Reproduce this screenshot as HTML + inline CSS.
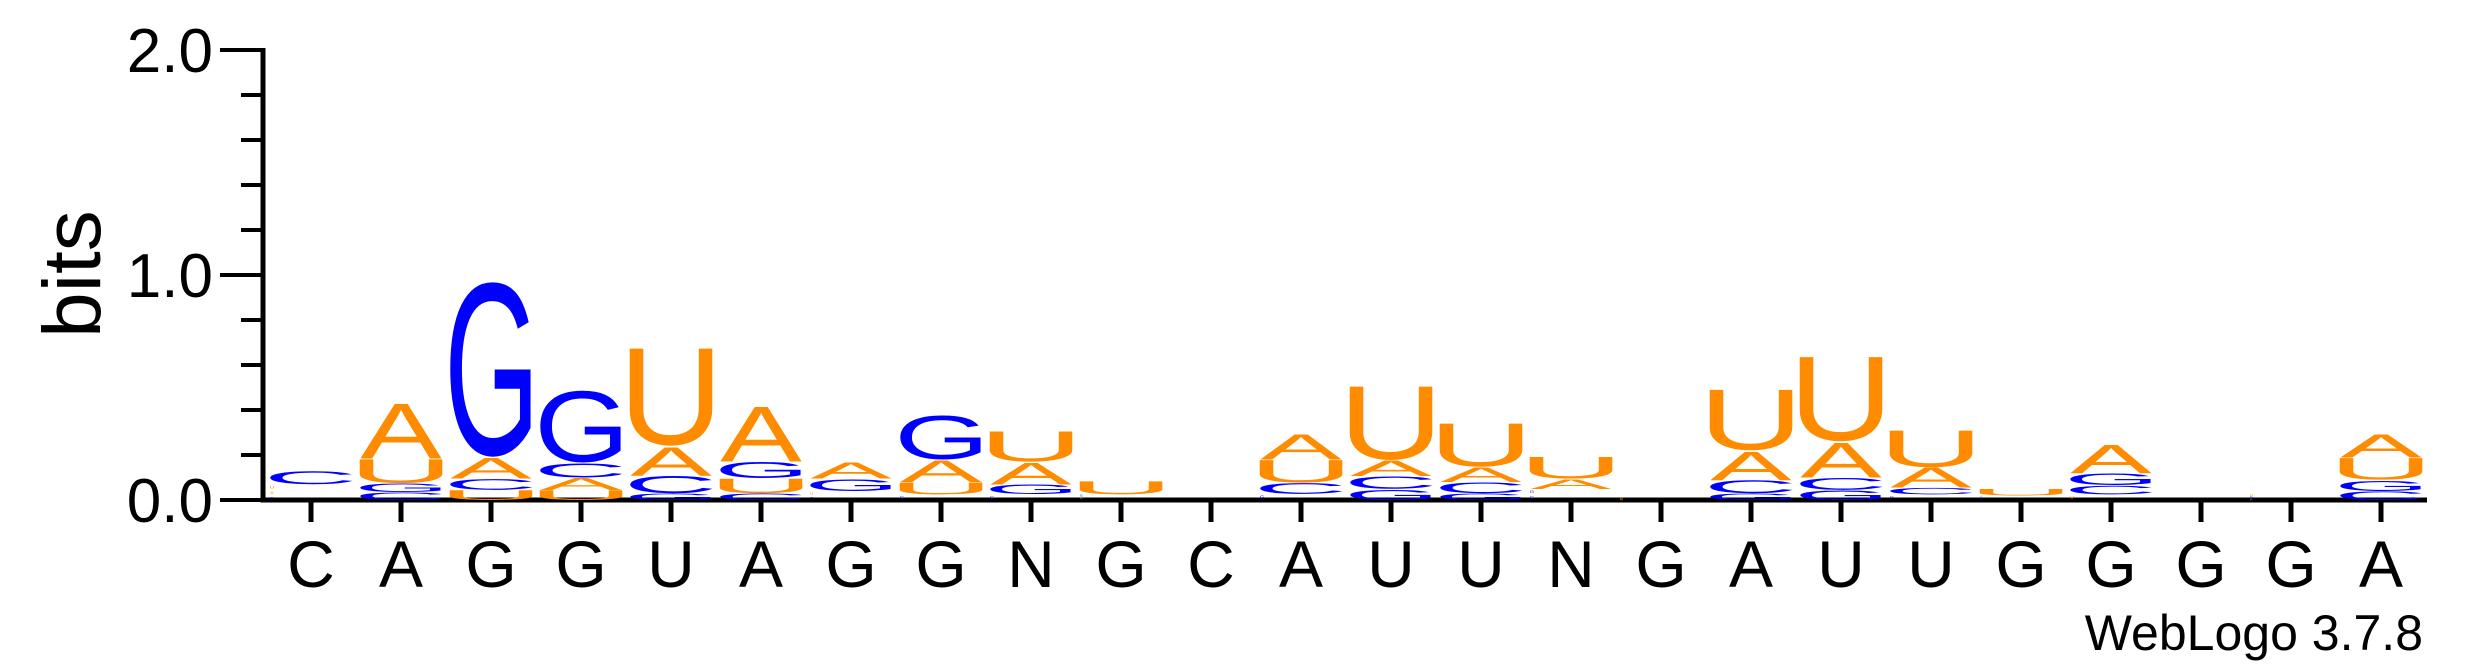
<!DOCTYPE html>
<html><head><meta charset="utf-8"><style>
html,body{margin:0;padding:0;background:#fff;}
svg{display:block;}
</style></head><body>
<svg id="chart" width="2475" height="667" viewBox="0 0 2475 667" xmlns="http://www.w3.org/2000/svg">
<g id="axes"></g>
<g id="stacks"></g>
<text x="100" y="274" transform="rotate(-90 100 274)" text-anchor="middle" font-family="Liberation Sans, sans-serif" font-size="82">bits</text>
<text x="2423" y="650" text-anchor="end" font-family="Liberation Sans, sans-serif" font-size="50">WebLogo 3.7.8</text>
</svg>
<script>
const positions = ["C","A","G","G","U","A","G","G","N","G","C","A","U","U","N","G","A","U","U","G","G","G","G","A"];
const heightA = [0.025,0.25,0.095,0.055,0.13,0.25,0.075,0.1,0.1,0.01,0,0.114,0.07,0.067,0.045,0.003,0.13,0.16,0.09,0.01,0.13,0,0.005,0.105];
const heightC = [0.06,0.035,0.05,0.065,0.08,0.03,0.02,0.025,0.025,0.005,0,0.05,0.057,0.05,0.025,0,0.06,0.055,0.03,0.005,0.04,0,0.005,0.04];
const heightG = [0.02,0.04,0.81,0.333,0.03,0.075,0.055,0.205,0.045,0.01,0,0.027,0.05,0.03,0.025,0,0.03,0.045,0.025,0.005,0.055,0,0.005,0.05];
const heightU = [0.025,0.11,0.045,0.045,0.45,0.067,0.02,0.055,0.14,0.06,0,0.104,0.34,0.2,0.1,0.008,0.28,0.39,0.17,0.03,0.025,0,0.015,0.1];
const yTicks = [0,0.2,0.4,0.6,0.8,1.0,1.2,1.4,1.6,1.8,2.0];
const yTickLabels = {"0":"0.0","1":"1.0","2":"2.0"};

const NS="http://www.w3.org/2000/svg";
const X0=311, DX=90, Y0=500, PPB=225, LW=82;
function xPos(i){return X0+i*DX;}
function yPos(b){return Y0-b*PPB;}
const colors={A:"#FF8C00",U:"#FF8C00",C:"#0000FF",G:"#0000FF"};
const ink={A:[-0.0015,0.668,0,0.716],C:[0.049,0.681,-0.012,0.728],G:[0.048,0.715,-0.012,0.728],U:[0.079,0.643,-0.012,0.716]};

const axes=document.getElementById('axes');
function line(x1,y1,x2,y2,w,name){
  const l=document.createElementNS(NS,'line');
  l.setAttribute('x1',x1);l.setAttribute('y1',y1);l.setAttribute('x2',x2);l.setAttribute('y2',y2);
  l.setAttribute('stroke','#000');l.setAttribute('stroke-width',w);
  
  
  axes.appendChild(l);return l;
}
line(263,yPos(2)-2,263,Y0+2.5,5,'y-axis-line');
line(261,Y0,2427,Y0,5,'x-axis-line');
yTicks.forEach(t=>{
  const major=Math.abs(t-Math.round(t))<1e-6;
  line(major?220:241,yPos(t),263,yPos(t),4,'y-tick');
  if(major){
    const tx=document.createElementNS(NS,'text');
    tx.setAttribute('x',213);tx.setAttribute('y',yPos(t)+22);
    tx.setAttribute('text-anchor','end');tx.setAttribute('font-family','Liberation Sans, sans-serif');tx.setAttribute('font-size','62');
    tx.textContent=yTickLabels[String(Math.round(t))];
    
    
    axes.appendChild(tx);
  }
});
positions.forEach((p,i)=>{
  line(xPos(i),Y0,xPos(i),522,5,'x-tick');
  const tx=document.createElementNS(NS,'text');
  tx.setAttribute('x',xPos(i));tx.setAttribute('y',587);
  tx.setAttribute('text-anchor','middle');tx.setAttribute('font-family','Liberation Sans, sans-serif');tx.setAttribute('font-size','66');
  tx.textContent=p;
  
  
  axes.appendChild(tx);
});

const stacks=document.getElementById('stacks');
positions.forEach((p,i)=>{
  const items=[["A",heightA[i]],["C",heightC[i]],["G",heightG[i]],["U",heightU[i]]].sort((a,b)=>a[1]-b[1]);
  let base=0;
  const g=document.createElementNS(NS,'g');
  
  
  stacks.appendChild(g);
  items.forEach(([L,h])=>{
    let ybot=yPos(base), ytop=yPos(base+h);
    base+=h;
    let hp=ybot-ytop;
    if(hp<0.6) return;
    let w=LW, x0=xPos(i)-LW/2;
    if(hp<6.5){
      const gh=Math.max(2,hp*0.5);
      ybot=ybot-(hp-gh)/2; hp=gh; w=gh*1.3;
    }
    const m=ink[L];
    const sx=w/((m[1]-m[0])*100), sy=hp/((m[3]-m[2])*100);
    const tx=x0-m[0]*100*sx, ty=ybot+m[2]*100*sy;
    const t=document.createElementNS(NS,'text');
    t.setAttribute('x',0);t.setAttribute('y',0);
    t.setAttribute('font-family','Liberation Sans, sans-serif');t.setAttribute('font-size','100');
    t.setAttribute('fill',colors[L]);
    t.setAttribute('transform','translate('+tx+','+ty+') scale('+sx+','+sy+')');
    t.textContent=L;
    
    
    g.appendChild(t);
  });
});
</script>
</body></html>
